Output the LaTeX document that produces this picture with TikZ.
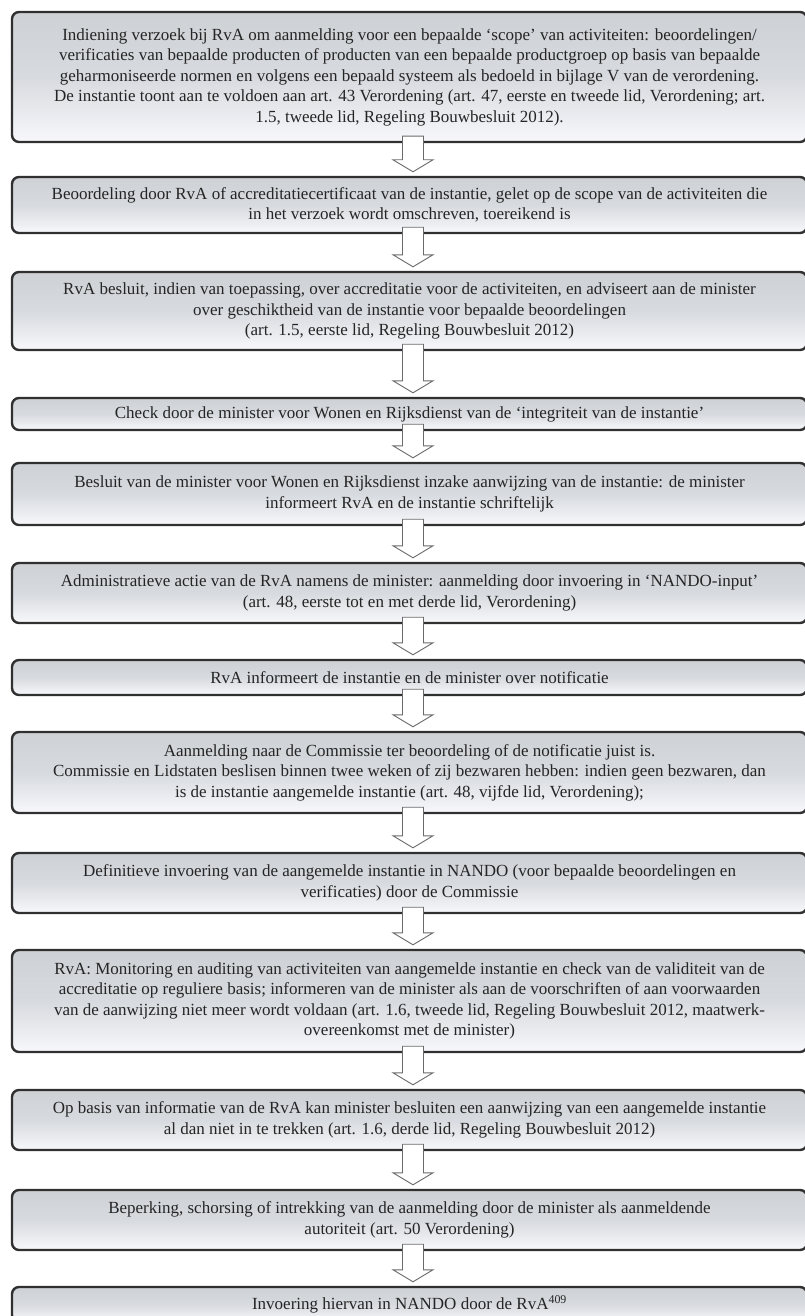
\documentclass[tikz,border=0pt]{standalone}
\usepackage{fontspec}
\setmainfont{Liberation Serif}
\usetikzlibrary{calc}
\definecolor{boxfill}{HTML}{D7DADE}
\definecolor{boxline}{HTML}{303030}
\definecolor{txt}{HTML}{252525}
\definecolor{arrline}{HTML}{6A6A6A}
\tikzset{
  flowbox/.style={draw=boxline, line width=2.4pt, rounded corners=7pt,
    top color=boxfill!90!gray, bottom color=boxfill!85!blue!10!white, middle color=boxfill,
    minimum width=795pt, inner sep=0pt, align=center, text=txt,
    font=\fontsize{17}{20.5}\selectfont},
  blockarr/.style={draw=arrline, line width=0.9pt, fill=white, line join=miter}
}
\newcommand\flowarrow[2]{%
  \draw[blockarr] let \p1=($(#1.south)+(3.5pt,7pt)$), \p2=($(#2.north)+(3.5pt,4pt)$) in
    (\x1-10.5pt,\y1) -- (\x1+10.5pt,\y1) -- (\x1+10.5pt,\y2+12pt) -- (\x1+20pt,\y2+12pt)
    -- (\x1,\y2) -- (\x1-20pt,\y2+12pt) -- (\x1-10.5pt,\y2+12pt) -- cycle;}
\begin{document}
\begin{tikzpicture}[x=1pt,y=1pt]
\useasboundingbox (0,0) rectangle (805,-1316);
\clip (0,0) rectangle (805,-1316);
\fill[white] (0,0) rectangle (805,-1316);
\node[flowbox, minimum height=130pt] (b1) at (409.5,-77) {Indiening verzoek bij RvA om aanmelding voor een bepaalde `scope' van activiteiten: beoordelingen/\\verificaties van bepaalde producten of producten van een bepaalde productgroep op basis van bepaalde\\geharmoniseerde normen en volgens een bepaald systeem als bedoeld in bijlage V van de verordening.\\De instantie toont aan te voldoen aan art. 43 Verordening (art. 47, eerste en tweede lid, Verordening; art.\\1.5, tweede lid, Regeling Bouwbesluit 2012).};
\node[flowbox, minimum height=56pt] (b2) at (409.5,-205) {Beoordeling door RvA of accreditatiecertificaat van de instantie, gelet op de scope van de activiteiten die\\in het verzoek wordt omschreven, toereikend is};
\node[flowbox, minimum height=78pt] (b3) at (409.5,-311) {RvA besluit, indien van toepassing, over accreditatie voor de activiteiten, en adviseert aan de minister\\over geschiktheid van de instantie voor bepaalde beoordelingen\\(art. 1.5, eerste lid, Regeling Bouwbesluit 2012)};
\node[flowbox, minimum height=32pt] (b4) at (409.5,-414) {Check door de minister voor Wonen en Rijksdienst van de `integriteit van de instantie'};
\node[flowbox, minimum height=62pt] (b5) at (409.5,-494) {Besluit van de minister voor Wonen en Rijksdienst inzake aanwijzing van de instantie: de minister\\informeert RvA en de instantie schriftelijk};
\node[flowbox, minimum height=60pt] (b6) at (409.5,-593) {Administratieve actie van de RvA namens de minister: aanmelding door invoering in `NANDO-input'\\(art. 48, eerste tot en met derde lid, Verordening)};
\node[flowbox, minimum height=35pt] (b7) at (409.5,-677.5) {RvA informeert de instantie en de minister over notificatie};
\node[flowbox, minimum height=81pt] (b8) at (409.5,-772.5) {Aanmelding naar de Commissie ter beoordeling of de notificatie juist is.\\Commissie en Lidstaten beslisen binnen twee weken of zij bezwaren hebben: indien geen bezwaren, dan\\is de instantie aangemelde instantie (art. 48, vijfde lid, Verordening);};
\node[flowbox, minimum height=60pt] (b9) at (409.5,-883) {Definitieve invoering van de aangemelde instantie in NANDO (voor bepaalde beoordelingen en\\verificaties) door de Commissie};
\node[flowbox, minimum height=102pt] (b10) at (409.5,-1001) {RvA: Monitoring en auditing van activiteiten van aangemelde instantie en check van de validiteit van de\\accreditatie op reguliere basis; informeren van de minister als aan de voorschriften of aan voorwaarden\\van de aanwijzing niet meer wordt voldaan (art. 1.6, tweede lid, Regeling Bouwbesluit 2012, maatwerk-\\overeenkomst met de minister)};
\node[flowbox, minimum height=60pt] (b11) at (409.5,-1120) {Op basis van informatie van de RvA kan minister besluiten een aanwijzing van een aangemelde instantie\\al dan niet in te trekken (art. 1.6, derde lid, Regeling Bouwbesluit 2012)};
\node[flowbox, minimum height=60pt] (b12) at (409.5,-1220) {Beperking, schorsing of intrekking van de aanmelding door de minister als aanmeldende\\autoriteit (art. 50 Verordening)};
\node[flowbox, minimum height=35pt] (b13) at (409.5,-1304.5) {Invoering hiervan in NANDO door de RvA\textsuperscript{409}};
\flowarrow{b1}{b2}
\flowarrow{b2}{b3}
\flowarrow{b3}{b4}
\flowarrow{b4}{b5}
\flowarrow{b5}{b6}
\flowarrow{b6}{b7}
\flowarrow{b7}{b8}
\flowarrow{b8}{b9}
\flowarrow{b9}{b10}
\flowarrow{b10}{b11}
\flowarrow{b11}{b12}
\flowarrow{b12}{b13}
\end{tikzpicture}
\end{document}
